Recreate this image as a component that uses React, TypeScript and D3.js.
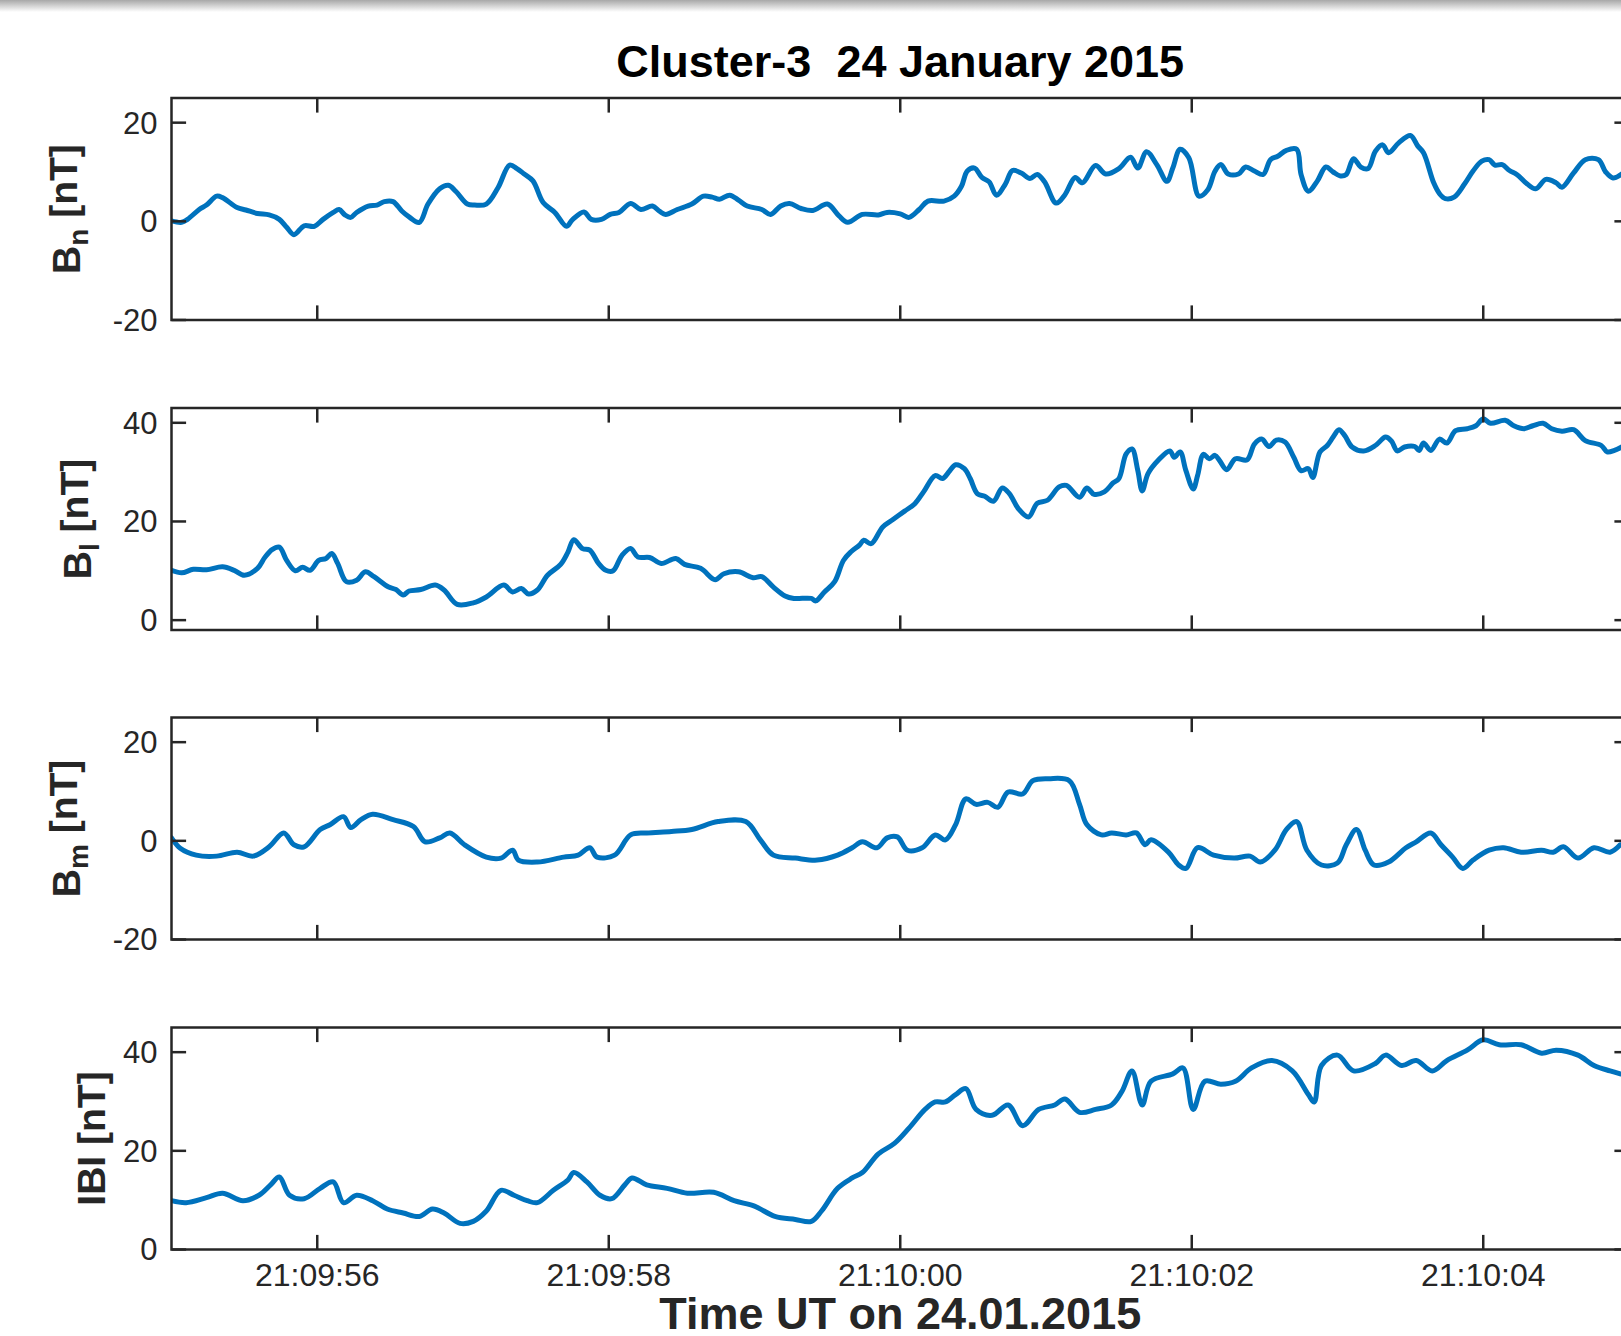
import React from "react";
import * as d3 from "d3";

// time in seconds after 21:09:00 UT, value in nT
const bnData: [number, number][] = [
  [55.0, 0.1], [55.07, -0.2], [55.11, 0.4], [55.19, 2.4], [55.24, 3.3], [55.31, 5.1], [55.35, 4.8], [55.45, 2.8], [55.51, 2.3], [55.59, 1.6],
  [55.67, 1.3], [55.74, 0.4], [55.79, -1.2], [55.84, -2.7], [55.91, -0.9], [55.98, -1.0], [56.04, 0.4], [56.11, 1.8], [56.15, 2.4], [56.19, 1.3],
  [56.23, 0.8], [56.27, 1.8], [56.35, 3.1], [56.41, 3.3], [56.46, 4.0], [56.52, 4.0], [56.58, 2.1], [56.63, 0.9], [56.7, -0.2], [56.76, 3.5],
  [56.84, 6.6], [56.9, 7.3], [56.95, 6.1], [57.03, 3.5], [57.08, 3.3], [57.16, 3.5], [57.24, 6.8], [57.32, 11.4], [57.37, 10.7], [57.42, 9.6],
  [57.48, 8.2], [57.55, 3.8], [57.63, 1.8], [57.71, -1.0], [57.75, 0.3], [57.83, 1.9], [57.88, 0.4], [57.95, 0.4], [58.01, 1.4], [58.07, 1.8],
  [58.15, 3.6], [58.22, 2.4], [58.3, 3.1], [58.35, 2.0], [58.39, 1.4], [58.47, 2.4], [58.57, 3.5], [58.65, 5.1], [58.71, 4.9], [58.76, 4.5],
  [58.83, 5.3], [58.89, 4.3], [58.95, 3.1], [59.05, 2.4], [59.11, 1.4], [59.18, 3.1], [59.24, 3.6], [59.32, 2.6], [59.4, 2.2], [59.5, 3.5],
  [59.58, 1.1], [59.64, -0.2], [59.74, 1.4], [59.85, 1.3], [59.91, 1.8],
  [60.0, 1.5], [60.06, 0.8], [60.13, 2.4], [60.19, 4.1], [60.3, 4.1], [60.37, 5.1], [60.42, 7.1], [60.46, 10.2], [60.51, 10.8], [60.56, 8.9],
  [60.61, 8.0], [60.66, 5.3], [60.72, 7.5], [60.77, 10.3], [60.83, 9.8], [60.89, 8.7], [60.94, 9.5], [60.99, 8.0], [61.07, 3.7], [61.13, 5.4],
  [61.2, 8.9], [61.25, 7.8], [61.34, 11.3], [61.41, 9.6], [61.5, 10.7], [61.58, 13.0], [61.63, 10.8], [61.69, 14.1], [61.76, 11.5], [61.83, 8.1],
  [61.87, 10.8], [61.92, 14.6], [61.98, 12.9], [62.05, 5.1], [62.11, 6.4], [62.16, 10.2], [62.2, 11.5], [62.25, 9.6], [62.32, 9.6], [62.37, 11.0],
  [62.43, 10.2], [62.49, 9.5], [62.54, 12.5], [62.59, 13.2], [62.65, 14.4], [62.72, 14.6], [62.75, 9.5], [62.8, 6.1], [62.86, 8.1], [62.92, 11.0],
  [62.97, 10.0], [63.02, 9.2], [63.06, 9.5], [63.11, 12.7], [63.16, 11.0], [63.21, 10.7], [63.26, 14.2], [63.31, 15.5], [63.35, 13.9], [63.42, 15.9],
  [63.5, 17.4], [63.55, 15.3], [63.59, 13.9], [63.66, 7.8], [63.7, 5.6], [63.74, 4.6], [63.8, 4.9], [63.87, 7.5], [63.93, 10.2], [63.99, 12.2],
  [64.04, 12.5], [64.08, 11.4], [64.13, 11.5], [64.18, 10.3], [64.23, 9.5], [64.3, 7.6], [64.36, 6.6], [64.43, 8.5], [64.5, 7.8], [64.54, 6.9],
  [64.62, 9.8], [64.7, 12.5], [64.79, 12.5], [64.84, 10.0], [64.89, 8.8], [64.95, 9.6],
];

const blData: [number, number][] = [
  [55.0, 10.1], [55.07, 9.6], [55.15, 10.3], [55.24, 10.2], [55.35, 10.8], [55.43, 10.1], [55.5, 9.1], [55.59, 10.5], [55.64, 12.7], [55.69, 14.3],
  [55.74, 14.8], [55.79, 12.1], [55.85, 10.0], [55.9, 10.7], [55.95, 10.1], [56.01, 12.1], [56.06, 12.5], [56.1, 13.5], [56.14, 11.5], [56.2, 7.8],
  [56.27, 8.1], [56.33, 9.8], [56.39, 8.8], [56.49, 6.7], [56.54, 6.2], [56.59, 5.1], [56.63, 5.9], [56.71, 6.2], [56.81, 7.1], [56.87, 6.1],
  [56.96, 3.2], [57.07, 3.5], [57.16, 4.7], [57.28, 7.1], [57.34, 5.7], [57.4, 6.4], [57.45, 5.3], [57.51, 6.1], [57.58, 9.1], [57.67, 11.3],
  [57.72, 13.8], [57.76, 16.3], [57.82, 14.5], [57.87, 14.2], [57.93, 11.5], [57.98, 10.1], [58.03, 10.0], [58.09, 13.1], [58.15, 14.5], [58.2, 12.8],
  [58.28, 12.7], [58.36, 11.5], [58.46, 12.5], [58.52, 11.3], [58.63, 10.5], [58.73, 8.2], [58.79, 9.4], [58.89, 9.8], [58.99, 8.6], [59.05, 8.8],
  [59.13, 6.7], [59.21, 4.9], [59.27, 4.4], [59.39, 4.4], [59.42, 3.9], [59.48, 5.7], [59.55, 7.8], [59.61, 12.1], [59.66, 13.8], [59.72, 15.2],
  [59.75, 16.2], [59.8, 15.5], [59.88, 18.9], [59.95, 20.4],
  [60.03, 22.1], [60.1, 23.6], [60.16, 26.0], [60.24, 29.3], [60.29, 28.7], [60.34, 30.3], [60.38, 31.5], [60.44, 30.7], [60.48, 28.7], [60.53, 25.6],
  [60.58, 25.1], [60.64, 24.1], [60.7, 26.8], [60.75, 25.6], [60.81, 22.6], [60.88, 20.9], [60.94, 23.7], [61.01, 24.3], [61.09, 27.0], [61.14, 27.3],
  [61.23, 24.9], [61.28, 26.8], [61.33, 25.5], [61.4, 26.0], [61.46, 27.8], [61.5, 28.7], [61.55, 33.7], [61.59, 34.7], [61.63, 30.3], [61.66, 26.2],
  [61.7, 29.7], [61.77, 32.4], [61.85, 34.3], [61.88, 33.0], [61.92, 34.1], [61.96, 30.3], [62.01, 26.6], [62.04, 29.3], [62.08, 33.6], [62.12, 32.7],
  [62.16, 33.4], [62.19, 32.4], [62.24, 30.5], [62.3, 32.7], [62.38, 32.5], [62.43, 35.7], [62.48, 36.7], [62.53, 35.2], [62.58, 36.5], [62.64, 36.1],
  [62.7, 33.0], [62.75, 30.3], [62.8, 30.7], [62.83, 28.9], [62.88, 34.1], [62.93, 35.4], [62.97, 37.1], [63.01, 38.6], [63.05, 37.4], [63.1, 35.1],
  [63.18, 34.3], [63.26, 35.4], [63.33, 37.1], [63.37, 36.3], [63.41, 34.3], [63.46, 35.1], [63.53, 35.2], [63.56, 34.4], [63.59, 35.9], [63.64, 34.4],
  [63.7, 36.7], [63.75, 35.9], [63.81, 38.4], [63.89, 38.8], [63.95, 39.4], [64.0, 40.8], [64.05, 39.9], [64.15, 40.5], [64.21, 39.4], [64.28, 38.8],
  [64.34, 39.4], [64.41, 39.9], [64.47, 38.8], [64.54, 38.3], [64.62, 38.6], [64.7, 36.4], [64.81, 35.4], [64.85, 34.1], [64.9, 34.4], [64.95, 35.1],
];

const bmData: [number, number][] = [
  [55.0, 0.6], [55.06, -1.5], [55.17, -2.9], [55.31, -3.1], [55.45, -2.3], [55.56, -3.1], [55.67, -1.2], [55.77, 1.6], [55.84, -0.8], [55.91, -1.2],
  [56.02, 2.3], [56.09, 3.3], [56.18, 4.9], [56.23, 2.7], [56.3, 4.3], [56.38, 5.4], [56.52, 4.3], [56.66, 2.9], [56.74, -0.2], [56.84, 0.6],
  [56.91, 1.6], [57.01, -0.8], [57.16, -3.3], [57.26, -3.5], [57.34, -1.9], [57.38, -3.9], [57.51, -4.3], [57.69, -3.3], [57.79, -2.9], [57.87, -1.4],
  [57.92, -3.3], [58.04, -2.9], [58.15, 1.2], [58.26, 1.6], [58.43, 1.9], [58.57, 2.3], [58.75, 3.9], [58.94, 3.9], [59.04, 0.2], [59.13, -2.9],
  [59.28, -3.5], [59.43, -3.9], [59.57, -2.9], [59.67, -1.4], [59.74, -0.2], [59.84, -1.4], [59.91, 0.6], [59.98, 0.8], [60.05, -1.9], [60.15, -1.4],
  [60.24, 1.2], [60.31, 0.2], [60.38, 3.3], [60.45, 8.5], [60.52, 7.4], [60.6, 7.8], [60.67, 6.8], [60.74, 9.9], [60.84, 9.5], [60.91, 12.2],
  [61.02, 12.6], [61.16, 12.2], [61.23, 7.4], [61.28, 3.3], [61.38, 1.2], [61.45, 1.6], [61.55, 1.2], [61.62, 1.6], [61.68, -0.8], [61.72, 0.2],
  [61.84, -2.3], [61.91, -4.9], [61.96, -5.6], [62.04, -1.4], [62.15, -2.9], [62.29, -3.5], [62.4, -3.1], [62.47, -4.3], [62.57, -1.9], [62.65, 2.3],
  [62.72, 3.9], [62.79, -1.9], [62.89, -4.9], [63.0, -4.5], [63.06, -0.8], [63.13, 2.3], [63.19, -1.9], [63.25, -4.9], [63.35, -4.3], [63.47, -1.4],
  [63.54, -0.2], [63.64, 1.6], [63.71, -0.8], [63.79, -3.3], [63.86, -5.6], [63.93, -3.9], [64.04, -1.9], [64.14, -1.4], [64.26, -2.3], [64.4, -1.9],
  [64.48, -2.3], [64.55, -1.2], [64.65, -3.5], [64.76, -1.4], [64.87, -2.3], [64.94, -0.8],
];

const btData: [number, number][] = [
  [55.0, 9.9], [55.1, 9.5], [55.24, 10.5], [55.35, 11.4], [55.49, 9.9], [55.6, 11.0], [55.68, 13.1], [55.74, 14.7], [55.81, 11.0], [55.91, 10.3],
  [56.02, 12.4], [56.11, 13.7], [56.18, 9.5], [56.27, 11.0], [56.38, 9.9], [56.48, 8.2], [56.59, 7.4], [56.7, 6.7], [56.79, 8.2], [56.87, 7.4],
  [56.98, 5.3], [57.07, 5.7], [57.16, 7.8], [57.26, 12.0], [57.35, 11.0], [57.44, 9.9], [57.51, 9.5], [57.62, 12.0], [57.72, 14.1], [57.76, 15.6],
  [57.85, 13.7], [57.94, 11.0], [58.02, 10.3], [58.11, 13.1], [58.16, 14.5], [58.26, 13.1], [58.4, 12.4], [58.54, 11.4], [58.72, 11.6], [58.86, 9.9],
  [59.0, 8.8], [59.14, 6.7], [59.28, 6.1], [59.39, 5.7], [59.46, 7.8], [59.57, 12.4], [59.67, 14.5], [59.74, 15.6], [59.85, 19.4], [59.96, 21.5],
  [60.06, 24.6], [60.17, 28.4], [60.24, 29.9], [60.31, 29.9], [60.38, 31.4], [60.45, 32.6], [60.52, 28.4], [60.63, 27.2], [60.74, 29.3], [60.84, 25.1],
  [60.95, 28.4], [61.06, 29.3], [61.13, 30.5], [61.23, 27.8], [61.34, 28.4], [61.45, 29.3], [61.52, 32.0], [61.59, 36.2], [61.66, 29.3], [61.72, 34.1],
  [61.87, 35.6], [61.94, 36.8], [62.01, 28.4], [62.09, 34.1], [62.2, 33.5], [62.3, 34.1], [62.41, 36.8], [62.55, 38.3], [62.69, 36.2], [62.8, 31.4],
  [62.84, 29.9], [62.89, 37.3], [63.0, 39.4], [63.11, 36.2], [63.26, 37.7], [63.33, 39.4], [63.44, 37.3], [63.54, 38.3], [63.65, 36.2], [63.75, 38.3],
  [63.89, 40.4], [64.0, 42.5], [64.11, 41.5], [64.26, 41.5], [64.4, 39.8], [64.5, 40.4], [64.65, 39.4], [64.76, 37.3], [64.87, 36.2], [64.94, 35.6],
];

const xTickSeconds = [56, 58, 60, 62, 64];
const yTicksSigned = [-20, 0, 20];
const yTicksPositive = [0, 20, 40];
const titleText = "Cluster-3  24 January 2015";
const xLabelText = "Time UT on 24.01.2015";

const BASE = Date.UTC(2015, 0, 24, 21, 9, 0);
const toDate = (s: number) => new Date(BASE + s * 1000);

const W = 1621;
const H = 1336;
const LEFT = 171.5;
const RIGHT = 1629;
const PH = 222;
const AX = "#262626";
const LINE = "#0072BD";
const TICK = 14.6;

type Panel = {
  data: [number, number][];
  top: number;
  domain: [number, number];
  ticks: number[];
  main: string;
  sub: string;
  labelX: number;
};

const panels: Panel[] = [
  { data: bnData, top: 98, domain: [-20, 25], ticks: yTicksSigned, main: "B", sub: "n", labelX: 80 },
  { data: blData, top: 408, domain: [-2, 43], ticks: yTicksPositive, main: "B", sub: "l", labelX: 91 },
  { data: bmData, top: 717.5, domain: [-20, 25], ticks: yTicksSigned, main: "B", sub: "m", labelX: 80 },
  { data: btData, top: 1027.5, domain: [0, 45], ticks: yTicksPositive, main: "IBI", sub: "", labelX: 105 },
];

export default function App() {
  const x = d3.scaleUtc().domain([toDate(55), toDate(65)]).range([LEFT, RIGHT]);
  const fmt = d3.utcFormat("%H:%M:%S");
  const font = "'Liberation Sans', Arial, Helvetica, sans-serif";

  return (
    <svg width={W} height={H} style={{ position: "absolute", left: 0, top: 0, background: "#fff" }} fontFamily={font}>
      <defs>
        <linearGradient id="topShade" x1="0" y1="0" x2="0" y2="1">
          <stop offset="0" stopColor="#a8a8a8" />
          <stop offset="1" stopColor="#ffffff" />
        </linearGradient>
        {panels.map((p, i) => (
          <clipPath id={`clip${i}`} key={i}>
            <rect x={LEFT} y={p.top} width={RIGHT - LEFT} height={PH} />
          </clipPath>
        ))}
      </defs>
      <rect x={0} y={0} width={W} height={H} fill="#fff" />
      <rect x={0} y={0} width={W} height={12} fill="url(#topShade)" />

      <text
        x={(LEFT + RIGHT) / 2}
        y={77}
        textAnchor="middle"
        fontSize={45}
        fontWeight="bold"
        fill="#000"
        style={{ whiteSpace: "pre" }}
      >
        {titleText}
      </text>

      {panels.map((p, i) => {
        const y = d3.scaleLinear().domain(p.domain).range([p.top + PH, p.top]);
        const line = d3
          .line<[number, number]>()
          .x((d) => x(toDate(d[0])))
          .y((d) => y(d[1]))
          .curve(d3.curveCatmullRom.alpha(0.5));
        const bottom = p.top + PH;
        const isLast = i === panels.length - 1;
        return (
          <g key={i}>
            <path d={line(p.data) || ""} fill="none" stroke={LINE} strokeWidth={5} strokeLinejoin="round" strokeLinecap="round" clipPath={`url(#clip${i})`} />
            <rect x={LEFT} y={p.top} width={RIGHT - LEFT} height={PH} fill="none" stroke={AX} strokeWidth={2.5} />
            {xTickSeconds.map((s) => {
              const xx = x(toDate(s));
              return (
                <g key={s}>
                  <line x1={xx} x2={xx} y1={bottom} y2={bottom - TICK} stroke={AX} strokeWidth={2.5} />
                  <line x1={xx} x2={xx} y1={p.top} y2={p.top + TICK} stroke={AX} strokeWidth={2.5} />
                  {isLast && (
                    <text x={xx} y={bottom + 36} textAnchor="middle" fontSize={32} fill={AX}>
                      {fmt(toDate(s))}
                    </text>
                  )}
                </g>
              );
            })}
            {p.ticks.map((t) => {
              const yy = y(t);
              return (
                <g key={t}>
                  <line x1={LEFT} x2={LEFT + TICK} y1={yy} y2={yy} stroke={AX} strokeWidth={2.5} />
                  <line x1={RIGHT} x2={RIGHT - TICK} y1={yy} y2={yy} stroke={AX} strokeWidth={2.5} />
                  <text x={LEFT - 14} y={yy} dy="0.35em" textAnchor="end" fontSize={31} fill={AX}>
                    {t}
                  </text>
                </g>
              );
            })}
            <text
              transform={`translate(${p.labelX},${p.top + PH / 2}) rotate(-90)`}
              textAnchor="middle"
              fontSize={39}
              fontWeight="bold"
              fill={AX}
            >
              <tspan>{p.main}</tspan>
              {p.sub && (
                <tspan fontSize={28} dy="0.3em">
                  {p.sub}
                </tspan>
              )}
              <tspan dy={p.sub ? "-0.3em" : 0}>{" [nT]"}</tspan>
            </text>
          </g>
        );
      })}

      <text x={(LEFT + RIGHT) / 2} y={1329} textAnchor="middle" fontSize={45} fontWeight="bold" fill={AX}>
        {xLabelText}
      </text>
    </svg>
  );
}
